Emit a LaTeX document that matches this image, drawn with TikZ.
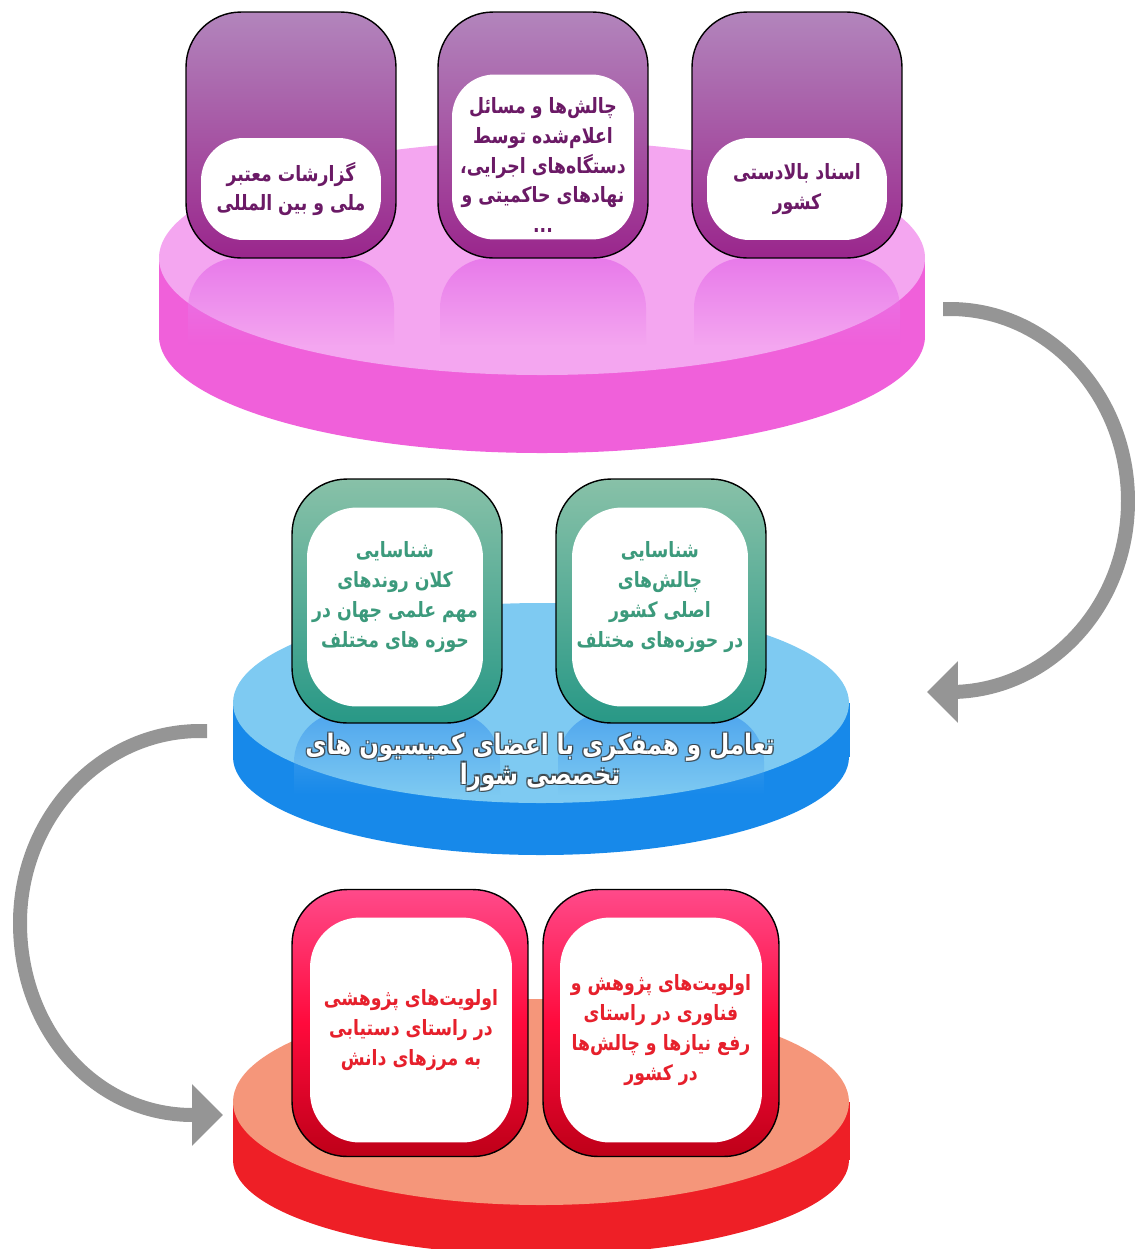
\documentclass[tikz,border=0pt]{standalone}
\usepackage{fontspec}
\usetikzlibrary{arrows.meta, positioning, fadings}
\usepackage{xcolor}
\newfontfamily\fafont[Script=Arabic, FakeStretch=0.82]{DejaVu Sans}
\TeXXeTstate=1
\newcommand{\fa}[1]{\beginR #1\endR}

\definecolor{pinktop}{HTML}{F4A6F0}
\definecolor{pinkside}{HTML}{F060DA}
\definecolor{pinkrefl}{HTML}{E87AEA}
\definecolor{bluetop}{HTML}{7ECAF2}
\definecolor{blueside}{HTML}{1789EA}
\definecolor{bluerefl}{HTML}{4FA6EE}
\definecolor{redtop}{HTML}{F5967A}
\definecolor{redside}{HTML}{EE1F26}
\definecolor{purplehi}{HTML}{B285BC}
\definecolor{purplelo}{HTML}{9A268C}
\definecolor{purpletext}{HTML}{6B1A66}
\definecolor{greenhi}{HTML}{88C1A8}
\definecolor{greenlo}{HTML}{289886}
\definecolor{greentext}{HTML}{3C9A7C}
\definecolor{redhi}{HTML}{FF4A8A}
\definecolor{redmid}{HTML}{FF0A3C}
\definecolor{redlo}{HTML}{BE0018}
\definecolor{redtext}{HTML}{E6202C}
\definecolor{arrowgray}{HTML}{959595}

\begin{document}
\begin{tikzpicture}[x=0.02cm, y=-0.02cm,
    box/.style={draw=black, line width=0.8pt, rounded corners=1.1cm, minimum width=4.2cm},
    purplebox/.style={box, top color=purplehi, bottom color=purplelo, minimum height=4.92cm},
    greenbox/.style={box, top color=greenhi, bottom color=greenlo, minimum height=4.88cm},
    redbox/.style={box, top color=redhi, bottom color=redlo, middle color=redmid, minimum width=4.72cm, minimum height=5.34cm},
    card/.style={fill=white, rounded corners=0.85cm},
    boxtext/.style={font=\fafont\bfseries\fontsize{12}{17}\selectfont, align=center},
    captext/.style={boxtext, font=\fafont\bfseries\fontsize{16}{17}\selectfont},
    flowarrow/.style={draw=arrowgray, line width=0.28cm, -{Triangle[length=0.62cm, width=1.2cm]}}]

  \useasboundingbox (0,0) rectangle (1134,1249);

  % top disk
  \fill[pinkside] (159,258) rectangle (925,336);
  \fill[pinkside] (542,336) ellipse [x radius=383, y radius=117];
  \fill[pinktop] (542,258) ellipse [x radius=383, y radius=117];
  \foreach \x in {291,543,797}
    \fill[pinkrefl, path fading=south] (\x-103,345) [rounded corners=1cm] -- (\x-103,258) -- (\x+103,258) [sharp corners] -- (\x+103,345) -- cycle;

  % middle disk
  \fill[blueside] (233,703) rectangle (850,757);
  \fill[blueside] (541,757) ellipse [x radius=308, y radius=98];
  \fill[bluetop] (541,703) ellipse [x radius=308, y radius=100];
  \foreach \x in {397,661}
    \fill[bluerefl, path fading=south] (\x-103,795) [rounded corners=1cm] -- (\x-103,712) -- (\x+103,712) [sharp corners] -- (\x+103,795) -- cycle;

  % bottom disk
  \fill[redside] (233,1102) rectangle (850,1160);
  \fill[redside] (541,1160) ellipse [x radius=308, y radius=95];
  \fill[redtop] (541,1102) ellipse [x radius=308, y radius=103];

  % top boxes
  \node[purplebox] (src1) at (291,135) {};
  \node[purplebox] (src2) at (543,135) {};
  \node[purplebox] (src3) at (797,135) {};
  \node[card, minimum width=3.6cm, minimum height=2.04cm] (card1) at (291,189) {};
  \node[card, minimum width=3.64cm, minimum height=3.3cm] (card2) at (543,157) {};
  \node[card, minimum width=3.6cm, minimum height=2.04cm] (card3) at (797,189) {};
  \node[boxtext, text=purpletext] (txt1) at (card1) {\fa{گزارشات معتبر}\\\fa{ملی و بین المللی}};
  \node[boxtext, text=purpletext] (txt2) at ([yshift=-0.16cm]card2.center) {\fa{چالش‌ها و مسائل}\\\fa{اعلام‌شده توسط}\\\fa{دستگاه‌های اجرایی،}\\\fa{نهادهای حاکمیتی و}\\...};
  \node[boxtext, text=purpletext] (txt3) at (card3) {\fa{اسناد بالادستی}\\\fa{کشور}};

  % middle boxes
  \node[greenbox] (trend) at (397,601) {};
  \node[greenbox] (chal) at (661,601) {};
  \node[card, rounded corners=1cm, minimum width=3.52cm, minimum height=3.98cm] (card4) at (395,607) {};
  \node[card, rounded corners=1cm, minimum width=3.52cm, minimum height=3.98cm] (card5) at (660,607) {};
  \node[boxtext, text=greentext] (txt4) at ([yshift=0.2cm]card4.center) {\fa{شناسایی}\\\fa{کلان روندهای}\\\fa{مهم علمی جهان در}\\\fa{حوزه های مختلف}};
  \node[boxtext, text=greentext] (txt5) at ([yshift=0.2cm]card5.center) {\fa{شناسایی}\\\fa{چالش‌های}\\\fa{اصلی کشور}\\\fa{در حوزه‌های مختلف}};

  \foreach \dx/\dy [count=\i] in {1.2/1.2,-1.2/1.2,1.2/-1.2,-1.2/-1.2}
    \node[captext, text=black!80, opacity=0.7] (capshade\i) at (540+\dx,762+\dy) {\fa{تعامل و همفکری با اعضای کمیسیون های}\\\fa{تخصصی شورا}};
  \node[captext, text=white] (caption) at (540,762) {\fa{تعامل و همفکری با اعضای کمیسیون های}\\\fa{تخصصی شورا}};

  % bottom boxes
  \node[redbox] (prio1) at (410,1023) {};
  \node[redbox] (prio2) at (661,1023) {};
  \node[card, rounded corners=1cm, minimum width=4.04cm, minimum height=4.5cm] (card6) at (411,1030) {};
  \node[card, rounded corners=1cm, minimum width=4.04cm, minimum height=4.5cm] (card7) at (661,1030) {};
  \node[boxtext, text=redtext] (txt6) at (card6) {\fa{اولویت‌های پژوهشی}\\\fa{در راستای دستیابی}\\\fa{به مرزهای دانش}};
  \node[boxtext, text=redtext] (txt7) at (card7) {\fa{اولویت‌های پژوهش و}\\\fa{فناوری در راستای}\\\fa{رفع نیازها و چالش‌ها}\\\fa{در کشور}};

  % arrows
  \coordinate (a1s) at (943,309);
  \coordinate (a1m) at (1128,501);
  \coordinate (a1e) at (927,692);
  \draw[flowarrow] (a1s) -- ++(7,0) .. controls +(98,0) and +(0,-106) .. (a1m) .. controls +(0,106) and +(98,0) .. ++(-178,191) -- (a1e);

  \coordinate (a2s) at (207,731);
  \coordinate (a2m) at (20,923);
  \coordinate (a2e) at (223,1115);
  \draw[flowarrow] (a2s) -- ++(-7,0) .. controls +(-99,0) and +(0,-106) .. (a2m) .. controls +(0,106) and +(-99,0) .. ++(173,192) -- (a2e);
\end{tikzpicture}
\end{document}
